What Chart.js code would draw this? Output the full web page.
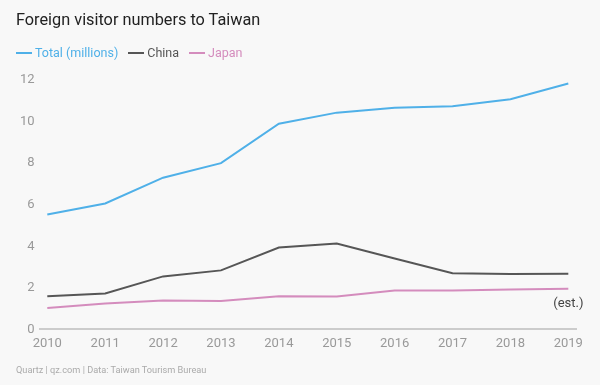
<!DOCTYPE html>
<html>
<head>
<meta charset="utf-8">
<script src="https://cdn.jsdelivr.net/npm/chart.js@4"></script>
<style>
  html, body { margin: 0; padding: 0; background: #f8f8f8; font-family: Roboto, "Noto Sans", sans-serif; }
  .wrap { position: relative; width: 600px; height: 385px; overflow: hidden; }
  canvas { position: absolute; left: 0; top: 0; }
  .title { position: absolute; left: 16px; top: 10px; font-size: 16.3px; color: #222; }
  .legend { position: absolute; left: 16px; top: 45px; font-size: 12.5px; white-space: nowrap; }
  .legend span { display: inline-block; margin-right: 10px; }
  .legend i { display: inline-block; width: 16px; height: 2px; vertical-align: middle; margin-right: 3px; position: relative; top: -1px; }
  .footer { position: absolute; left: 16px; top: 364px; font-size: 9.2px; color: #aaa; }
</style>
</head>
<body>
<div class="wrap">
  <canvas id="chart" width="600" height="385"></canvas>
  <div class="title">Foreign visitor numbers to Taiwan</div>
  <div class="legend" id="legend"></div>
  <div class="footer">Quartz | qz.com | Data: Taiwan Tourism Bureau</div>
</div>
<script>
// data
const years = [2010, 2011, 2012, 2013, 2014, 2015, 2016, 2017, 2018, 2019];
const totalMillions = [5.53, 6.06, 7.3, 8.0, 9.9, 10.43, 10.67, 10.74, 11.07, 11.83];
const chinaMillions = [1.59, 1.73, 2.55, 2.84, 3.94, 4.13, 3.41, 2.7, 2.67, 2.68];
const japanMillions = [1.03, 1.25, 1.39, 1.37, 1.59, 1.58, 1.87, 1.87, 1.92, 1.95];
const seriesNames = ["Total (millions)", "China", "Japan"];
const seriesColors = ["#4fb0e8", "#565656", "#d48cbd"];
const estNote = { year: 2019, value: 1.25, text: "(est.)" };

const FONT = "Roboto, 'Noto Sans', sans-serif";

function points(vals) {
    return years.map(function (yr, i) { return { x: yr, y: vals[i] }; });
}

/* ============ (est.) label under the last year ============ */
const estPlugin = {
    id: "estNote",
    afterDatasetsDraw: function (chart) {
        const ctx = chart.ctx;
        const x = chart.scales.x.getPixelForValue(estNote.year);
        const y = chart.scales.y.getPixelForValue(estNote.value);
        ctx.save();
        ctx.font = "13px " + FONT;
        ctx.fillStyle = "#444";
        ctx.textAlign = "center";
        ctx.textBaseline = "middle";
        ctx.fillText(estNote.text, x, y);
        ctx.restore();
    },
};

const chart = new Chart(document.getElementById("chart").getContext("2d"), {
    type: "line",
    data: {
        datasets: [
            { label: seriesNames[0], data: points(totalMillions), borderColor: seriesColors[0] },
            { label: seriesNames[1], data: points(chinaMillions), borderColor: seriesColors[1] },
            { label: seriesNames[2], data: points(japanMillions), borderColor: seriesColors[2] },
        ],
    },
    options: {
        responsive: false,
        animation: false,
        datasets: {
            line: { borderWidth: 2, pointRadius: 0, tension: 0, fill: false },
        },
        layout: { padding: { left: 16, right: 23, top: 80, bottom: 26 } },
        plugins: {
            legend: { display: false },
            tooltip: { enabled: false },
        },
        scales: {
            x: {
                type: "linear",
                min: 2009.85,
                max: 2019.15,
                grid: { display: false, drawTicks: false },
                border: { display: false },
                ticks: {
                    stepSize: 1,
                    includeBounds: false,
                    color: "#999",
                    padding: 7,
                    maxRotation: 0,
                    font: { family: FONT, size: 13 },
                    callback: function (v) { return Number.isInteger(v) ? String(v) : ""; },
                },
            },
            y: {
                min: 0,
                max: 12,
                grid: {
                    drawTicks: false,
                    lineWidth: 2,
                    color: function (ctx) { return ctx.tick && ctx.tick.value === 0 ? "#cccccc" : "transparent"; },
                },
                border: { display: false },
                ticks: {
                    stepSize: 2,
                    color: "#999",
                    padding: 4,
                    font: { family: FONT, size: 13 },
                },
            },
        },
    },
    plugins: [estPlugin],
});

/* ============ legend (html) ============ */
document.getElementById("legend").innerHTML = chart.data.datasets.map(function (ds) {
    return '<span style="color:' + ds.borderColor + '"><i style="background:' + ds.borderColor + '"></i>' + ds.label + "</span>";
}).join("");
</script>
</body>
</html>
